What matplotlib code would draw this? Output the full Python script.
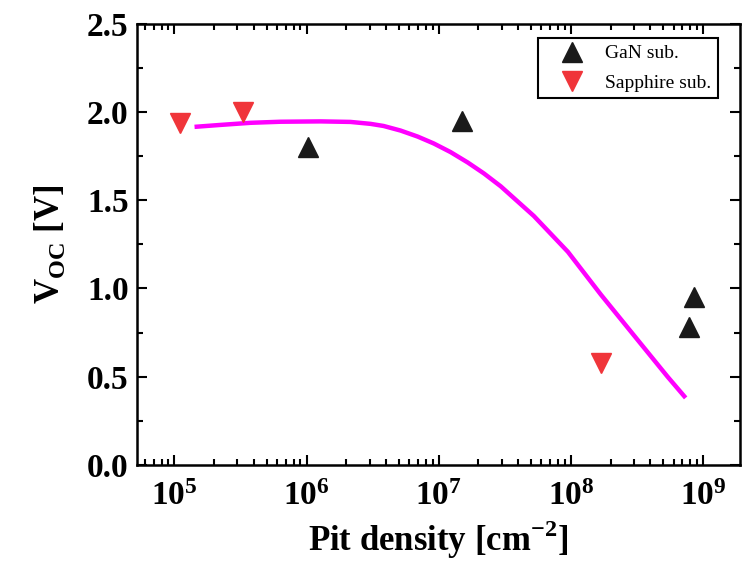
import math
import matplotlib
matplotlib.use("Agg")
import matplotlib.pyplot as plt
from matplotlib.ticker import LogLocator, MultipleLocator, NullFormatter, FuncFormatter

plt.rcParams["font.family"] = ["Liberation Serif", "DejaVu Serif"]
plt.rcParams["mathtext.fontset"] = "custom"
plt.rcParams["mathtext.rm"] = "Liberation Serif:bold"
plt.rcParams["mathtext.bf"] = "Liberation Serif:bold"

# Measured open-circuit voltage vs. pit density
gan_density = [1.02e6, 1.51e7, 7.8e8, 8.5e8]
gan_voc = [1.80, 1.95, 0.78, 0.95]

sapphire_density = [1.11e5, 3.33e5, 1.69e8]
sapphire_voc = [1.94, 2.00, 0.58]

# Model curve
fit_density = [1.42e5, 2.23e5, 3.77e5, 6.35e5, 1.28e6, 2.15e6, 3.05e6, 3.83e6,
               5.15e6, 6.93e6, 9.17e6, 1.23e7, 1.66e7, 2.2e7, 2.95e7, 5.25e7,
               9.5e7, 1.69e8, 3.0e8, 5.4e8, 7.4e8]
fit_voc = [1.916, 1.927, 1.939, 1.945, 1.947, 1.944, 1.933, 1.921,
           1.895, 1.861, 1.822, 1.773, 1.714, 1.652, 1.579, 1.411,
           1.208, 0.965, 0.735, 0.500, 0.380]

fig = plt.figure(figsize=(7.48, 5.67), dpi=100)
ax = fig.add_axes([0.183, 0.180, 0.806, 0.778])

ax.plot(fit_density, fit_voc, color="#ff00ff", lw=3.2, zorder=2,
        solid_capstyle="butt", solid_joinstyle="round")
ax.plot(gan_density, gan_voc, linestyle="none", marker="^", ms=15,
        color="#1a1a1a", label="GaN sub.", zorder=3)
ax.plot(sapphire_density, sapphire_voc, linestyle="none", marker="v", ms=15,
        color="#f0353a", label="Sapphire sub.", zorder=3)

ax.set_xscale("log")
ax.set_xlim(5.2e4, 1.9e9)
ax.set_ylim(0.0, 2.5)

ax.xaxis.set_major_locator(LogLocator(base=10, numticks=10))
ax.xaxis.set_major_formatter(FuncFormatter(
    lambda v, p: r"$\mathbf{10^{%d}}$" % round(math.log10(v))))
ax.xaxis.set_minor_locator(LogLocator(base=10, subs=range(2, 10), numticks=20))
ax.xaxis.set_minor_formatter(NullFormatter())
ax.yaxis.set_major_locator(MultipleLocator(0.5))
ax.yaxis.set_minor_locator(MultipleLocator(0.25))
ax.yaxis.set_major_formatter(FuncFormatter(lambda v, p: f"{v:.1f}"))

ax.tick_params(which="both", direction="in", top=True, right=True, width=1.5)
ax.tick_params(which="major", length=7, labelsize=24)
ax.tick_params(axis="x", which="major", pad=12)
ax.tick_params(axis="y", which="major", pad=6)
ax.tick_params(which="minor", length=4)
for lbl in ax.get_yticklabels():
    lbl.set_fontweight("bold")
for sp in ax.spines.values():
    sp.set_linewidth(1.8)

ax.set_xlabel(r"Pit density [cm$^{\mathbf{-2}}$]", fontsize=25, fontweight="bold", labelpad=4)
ax.set_ylabel(r"V$_{\mathbf{OC}}$ [V]", fontsize=25, fontweight="bold", labelpad=14)

leg = ax.legend(loc="upper right", fontsize=14, frameon=True, fancybox=False,
                edgecolor="black", framealpha=1.0, handlelength=2.8,
                handletextpad=0.3, borderpad=0.35, labelspacing=0.6,
                borderaxespad=0.0, bbox_to_anchor=(0.9635, 0.968))
leg.get_frame().set_linewidth(1.5)

fig.savefig("out.png", dpi=100)
